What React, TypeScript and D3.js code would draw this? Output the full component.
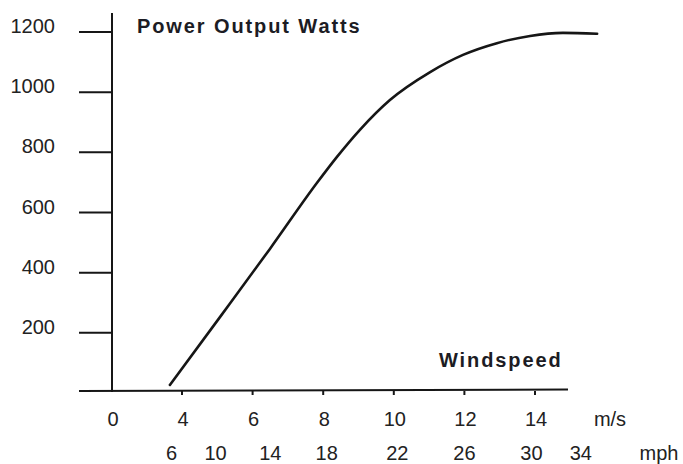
import * as d3 from 'd3';

// power curve (m/s, watts)
const windMs = [3.31, 5.08, 6.49, 7.82, 8.39, 9.04, 9.89, 11.03, 11.96, 12.92, 13.86, 14.79, 15.76];
const powerW = [27, 253, 479, 698, 785, 875, 974, 1067, 1124, 1163, 1187, 1197, 1194];

const powerTicks = [200, 400, 600, 800, 1000, 1200];
const msTicks = [4, 6, 8, 10, 12, 14];
const msLabels = [0, 4, 6, 8, 10, 12, 14];
const mphLabels = [6, 10, 14, 18, 22, 26, 30, 34];
// where each mph label sits along the m/s axis in the original
const mphOnMs = [3.4, 4.95, 6.5, 8.1, 10.1, 12.0, 13.9, 15.3];

const W = 683;
const H = 464;
const INK = '#161616';
const FONT = '"Liberation Sans", Arial, Helvetica, sans-serif';

export default function App() {
  // axis has a break between 0 and 4 m/s, so piecewise
  const x = d3.scaleLinear().domain([0, 4, 14]).range([112, 182, 535]);
  const y = d3.scaleLinear().domain([0, 1200]).range([393, 32]);

  const pts = windMs.map((v, i) => ({ v, p: powerW[i] }));
  const line = d3.line<{ v: number; p: number }>()
    .x(d => x(d.v))
    .y(d => y(d.p))
    .curve(d3.curveMonotoneX);

  const axisY = 391;

  return (
    <div style={{ position: 'absolute', left: 0, top: 0, width: W, height: H, background: '#fff' }}>
      <svg width={W} height={H} style={{ display: 'block' }} fontFamily={FONT}>
        {/* y axis */}
        <line x1={x(0)} x2={x(0)} y1={13} y2={axisY + 1} stroke={INK} strokeWidth={2} />
        {powerTicks.map(t => (
          <g key={t}>
            <line x1={79} x2={x(0)} y1={y(t)} y2={y(t)} stroke={INK} strokeWidth={2} />
            <text x={55} y={y(t) + 1} textAnchor="end" fontSize={20} fill="#222">{t}</text>
          </g>
        ))}
        <text x={137} y={33} fontSize={20} fontWeight={700} letterSpacing={1.9} fill="#1c1c24">Power Output Watts</text>

        {/* x axis */}
        <line x1={79} x2={568} y1={axisY} y2={axisY - 1.5} stroke={INK} strokeWidth={2} />
        {msTicks.map(t => (
          <line key={t} x1={x(t)} x2={x(t)} y1={axisY} y2={axisY + 4} stroke={INK} strokeWidth={2} />
        ))}
        {msLabels.map(t => (
          <text key={t} x={x(t) + 1} y={426} textAnchor="middle" fontSize={20} fill="#222">{t}</text>
        ))}
        <text x={610} y={426} textAnchor="middle" fontSize={20} fill="#222">m/s</text>
        {mphLabels.map((t, i) => (
          <text key={t} x={x(mphOnMs[i])} y={460} textAnchor="middle" fontSize={20} fill="#222">{t}</text>
        ))}
        <text x={659} y={460} textAnchor="middle" fontSize={20} fill="#222">mph</text>
        <text x={439} y={367} fontSize={20} fontWeight={700} letterSpacing={1.9} fill="#1c1c24">Windspeed</text>

        {/* power curve */}
        <path d={line(pts) ?? ''} fill="none" stroke={INK} strokeWidth={2.6} strokeLinecap="round" />
      </svg>
    </div>
  );
}
